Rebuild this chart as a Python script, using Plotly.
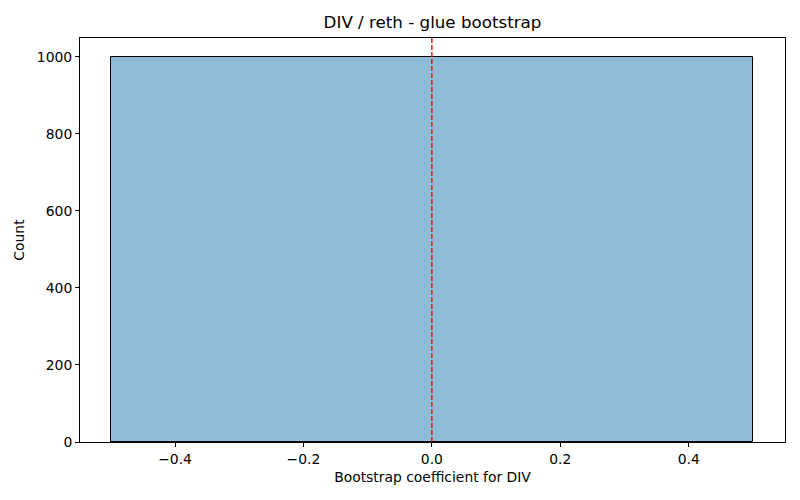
import plotly.graph_objects as go

# histogram of bootstrap coefficients (one bin)
bin_edges = [-0.5, 0.5]
counts = [1000]
observed = [0.0]

x_ticks = [-0.4, -0.2, 0.0, 0.2, 0.4]
y_ticks = [0, 200, 400, 600, 800, 1000]

centers = [(bin_edges[i] + bin_edges[i + 1]) / 2 for i in range(len(counts))]
widths = [bin_edges[i + 1] - bin_edges[i] for i in range(len(counts))]

fig = go.Figure()
fig.add_trace(go.Bar(
    x=centers,
    y=counts,
    width=widths,
    marker=dict(color="rgba(31,119,180,0.5)", line=dict(color="black", width=1)),
    showlegend=False,
))

for v in observed:
    fig.add_shape(type="line", x0=v, x1=v, y0=0, y1=1, yref="paper", layer="above",
                  line=dict(color="red", width=1.4, dash="5px,2px"))

fig.update_layout(
    width=800,
    height=500,
    template="none",
    font=dict(family="DejaVu Sans", size=13.9, color="black"),
    title=dict(text="DIV / reth - glue bootstrap", x=0.5, xref="paper", xanchor="center",
               y=0.955, yanchor="middle", font=dict(size=16.7), automargin=False),
    margin=dict(l=80, r=15, t=38, b=58, autoexpand=False),
    bargap=0,
    plot_bgcolor="white",
    paper_bgcolor="white",
)
fig.update_xaxes(
    range=[-0.548, 0.55],
    tickvals=x_ticks,
    tickformat=".1f",
    ticks="outside", ticklen=4, tickcolor="black", tickwidth=1,
    showline=True, mirror=True, linecolor="black", linewidth=1,
    title=dict(text="Bootstrap coefficient for DIV", font=dict(size=13.9), standoff=6),
    showgrid=False, zeroline=False, automargin=False,
)
fig.update_yaxes(
    range=[0, 1049],
    tickvals=y_ticks,
    ticks="outside", ticklen=4, tickcolor="black", tickwidth=1,
    showline=True, mirror=True, linecolor="black", linewidth=1,
    title=dict(text="Count", font=dict(size=13.9), standoff=8),
    showgrid=False, zeroline=False, automargin=False,
)

# page body has a default 8px margin; drop it so the figure sits at the corner
fig.write_html("out.html", config={"displayModeBar": False},
               post_script="document.body.style.margin='0';")
